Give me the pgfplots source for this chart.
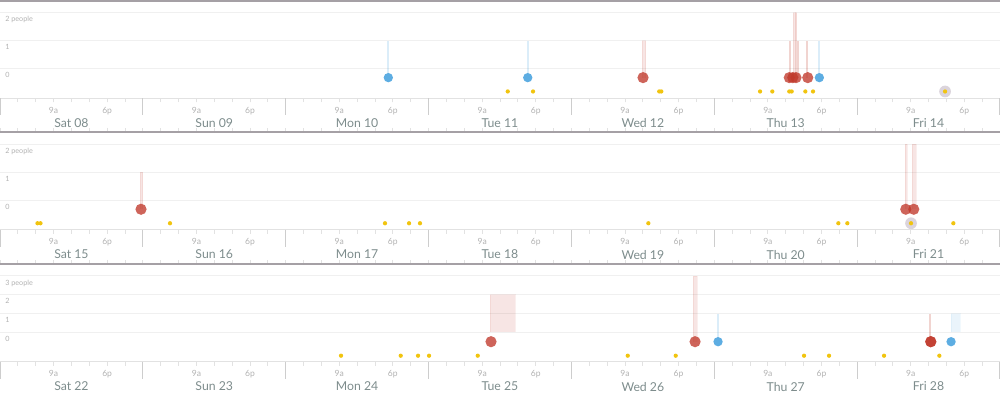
\documentclass[border=0pt]{standalone}
\usepackage{pgfplots}
\pgfplotsset{compat=1.18}
\usepackage{fontspec}
\setmainfont{Lato}
\definecolor{fred}{HTML}{C0392B}
\definecolor{fblue}{HTML}{5DADE2}
\definecolor{fyellow}{HTML}{F1C40F}
\definecolor{halo}{RGB}{219,212,220}
\definecolor{daytxt}{RGB}{125,140,140}
\definecolor{ticktxt}{RGB}{178,178,178}
\definecolor{gridc}{RGB}{240,240,240}
\definecolor{axc}{RGB}{226,226,226}
\definecolor{sepc}{RGB}{205,205,205}
\definecolor{borderc}{RGB}{165,160,165}
\pgfplotsset{
  rowaxis/.style={
    scale only axis, width=750pt,
    xmin=0, xmax=168,
    axis line style={draw=none},
    ymajorgrids, major grid style={gridc, line width=0.75pt},
    ytick style={draw=none},
    yticklabel style={anchor=north west, inner sep=0pt, font=\fontsize{5.4}{6}\selectfont, text=ticktxt, xshift=6.8pt, yshift=-2.8pt},
    xtick={9,18,33,42,57,66,81,90,105,114,129,138,153,162},
    xticklabels={9a,6p,9a,6p,9a,6p,9a,6p,9a,6p,9a,6p,9a,6p},
    minor xtick={0,3,...,168},
    tick align=outside,
    major tick length=3pt, minor tick length=3pt,
    xtick style={axc, line width=0.75pt},
    xticklabel style={font=\fontsize{6.4}{7}\selectfont, text=ticktxt},
    extra x ticks={12,36,60,84,108,132,156},
    extra x tick style={major tick length=0pt, xticklabel style={font=\fontsize{9.2}{10}\selectfont, text=daytxt, yshift=-11.5pt}},
    clip=false,
    after end axis/.code={
      \draw[axc, line width=0.75pt] (rel axis cs:0,0) -- (rel axis cs:1,0);
      \draw[borderc, line width=1.1pt] (rel axis cs:0,1) -- (rel axis cs:1,1);
      \foreach \d in {0,24,...,168} {\draw[sepc, line width=0.9pt] ({axis cs:\d,0} |- {rel axis cs:0,0}) -- ++(0,-12.75pt);}
    },
  },
  tstem/.style={draw=#1, draw opacity=0.22, line width=1.5pt, forget plot},
  rstem/.style={fill=#1, fill opacity=0.13, draw=#1, draw opacity=0.08, line width=0.4pt, forget plot},
  ydot/.style={only marks, mark=*, color=fyellow, mark size=1.6pt, mark options={fill=fyellow, draw opacity=0}},
  hdot/.style={only marks, mark=*, color=halo, mark size=4.4pt, mark options={fill=halo, draw opacity=0}},
  bdot/.style={only marks, mark=*, color=fblue, mark size=3.5pt, mark options={fill=fblue, draw opacity=0}},
  rdot/.style={only marks, mark=*, color=fred, mark size=4.2pt, mark options={fill=fred, fill opacity=0.78, draw opacity=0}},
}
\begin{document}
\begin{tikzpicture}
\useasboundingbox (0,0) rectangle (750pt,297pt);
% ---------------- Week 1
\begin{axis}[rowaxis, height=73pt, at={(0pt,223.3pt)}, anchor=south west,
  ymin=-1.057, ymax=2.42, ytick={0,1,2}, yticklabels={0,1,2 people},
  extra x tick labels={Sat 08,Sun 09,Mon 10,Tue 11,Wed 12,Thu 13,Fri 14}]
\addplot[tstem=fblue] coordinates {(65.24,-0.32) (65.24,1)};
\addplot[tstem=fblue] coordinates {(88.66,-0.32) (88.66,1)};
\addplot[tstem=fblue] coordinates {(137.65,-0.32) (137.65,1)};
\addplot[rstem=fred] coordinates {(107.86,-0.32) (107.86,1) (108.48,1) (108.48,-0.32)};
\addplot[tstem=fred] coordinates {(132.73,-0.32) (132.73,1)};
\addplot[rstem=fred] coordinates {(133.28,-0.32) (133.28,2) (133.52,2) (133.52,-0.32)};
\addplot[rstem=fred] coordinates {(133.62,-0.32) (133.62,2) (133.85,2) (133.85,-0.32)};
\addplot[tstem=fred] coordinates {(134.02,-0.32) (134.02,1)};
\addplot[tstem=fred] coordinates {(135.63,-0.32) (135.63,1)};
\addplot[hdot] coordinates {(158.77,-0.814)};
\addplot[ydot] coordinates {(85.3,-0.814) (89.55,-0.814) (110.75,-0.814) (111.1,-0.814) (127.69,-0.814) (129.75,-0.814) (132.6,-0.814) (133.0,-0.814) (135.30,-0.814) (136.59,-0.814) (158.77,-0.814)};
\addplot[bdot] coordinates {(65.24,-0.32) (88.66,-0.32) (137.65,-0.32)};
\addplot[rdot] coordinates {(108.03,-0.32) (132.6,-0.32) (133.18,-0.32) (133.73,-0.32) (135.70,-0.32)};
\end{axis}
% ---------------- Week 2
\begin{axis}[rowaxis, height=73.5pt, at={(0pt,124.5pt)}, anchor=south west,
  ymin=-1.061, ymax=2.44, ytick={0,1,2}, yticklabels={0,1,2 people},
  extra x tick labels={Sat 15,Sun 16,Mon 17,Tue 18,Wed 19,Thu 20,Fri 21}]
\addplot[rstem=fred] coordinates {(23.52,-0.32) (23.52,1) (23.97,1) (23.97,-0.32)};
\addplot[rstem=fred] coordinates {(152.10,-0.32) (152.10,2) (152.44,2) (152.44,-0.32)};
\addplot[rstem=fred] coordinates {(153.18,-0.32) (153.18,2) (153.90,2) (153.90,-0.32)};
\addplot[hdot] coordinates {(153.05,-0.82)};
\addplot[ydot] coordinates {(6.3,-0.82) (6.8,-0.82) (28.56,-0.82) (64.68,-0.82) (68.72,-0.82) (70.56,-0.82) (108.92,-0.82) (140.84,-0.82) (142.35,-0.82) (153.05,-0.82) (160.16,-0.82)};
\addplot[rdot] coordinates {(23.69,-0.32) (152.17,-0.32) (153.51,-0.32)};
\end{axis}
% ---------------- Week 3
\begin{axis}[rowaxis, height=73.5pt, at={(0pt,25.5pt)}, anchor=south west,
  ymin=-1.582, ymax=3.639, ytick={0,1,2,3}, yticklabels={0,1,2,3 people},
  extra x tick labels={Sat 22,Sun 23,Mon 24,Tue 25,Wed 26,Thu 27,Fri 28}]
\addplot[rstem=fred] coordinates {(82.32,0) (82.32,2) (86.52,2) (86.52,0)};
\addplot[rstem=fred] coordinates {(116.48,-0.5) (116.48,3) (117.15,3) (117.15,-0.5)};
\addplot[tstem=fred] coordinates {(156.25,-0.5) (156.25,1)};
\addplot[tstem=fblue] coordinates {(120.63,-0.5) (120.63,1)};
\addplot[rstem=fblue] coordinates {(159.73,0) (159.73,1) (161.29,1) (161.29,0)};
\addplot[ydot] coordinates {(57.29,-1.247) (67.32,-1.247) (70.23,-1.247) (72.08,-1.247) (80.26,-1.247) (105.46,-1.247) (113.52,-1.247) (135.08,-1.247) (139.28,-1.247) (148.52,-1.247) (157.81,-1.247)};
\addplot[bdot] coordinates {(120.63,-0.5) (159.78,-0.5)};
\addplot[rdot] coordinates {(82.49,-0.5) (116.77,-0.5) (156.37,-0.5) (156.37,-0.5)};
\end{axis}
\end{tikzpicture}
\end{document}
